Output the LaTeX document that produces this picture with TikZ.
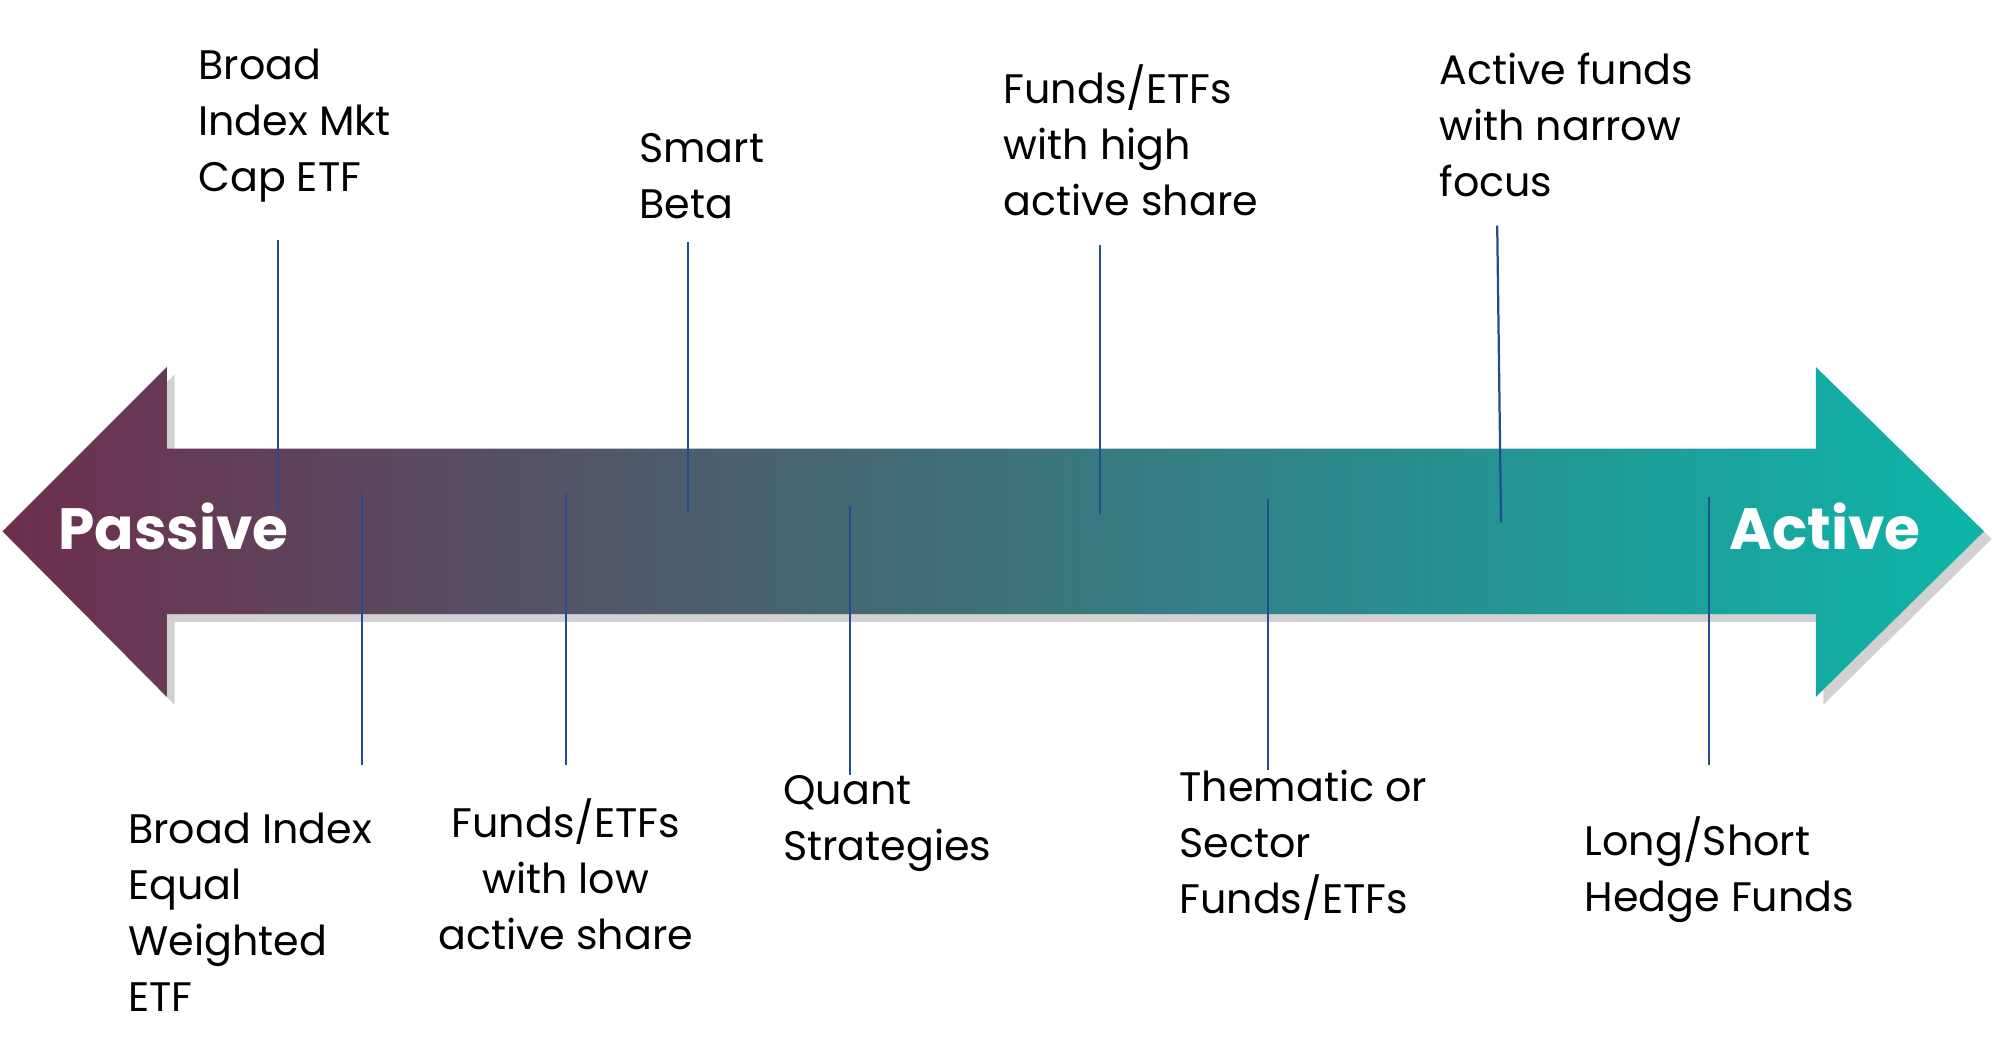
\documentclass[tikz,border=0pt]{standalone}
\usepackage{fontspec}
\setmainfont{Poppins}
\usetikzlibrary{positioning}
\definecolor{passivecol}{HTML}{6E2E4D}
\definecolor{activecol}{HTML}{0DB5A9}
\definecolor{tickcol}{HTML}{244C96}
\tikzset{
  lbl/.style={inner sep=0pt, align=left, font=\fontsize{9.2}{12.5}\selectfont, text=black},
  tick/.style={draw=tickcol, line width=0.5pt},
  endlbl/.style={inner sep=0pt, font=\fontsize{13}{15}\selectfont\bfseries, text=white}
}
\begin{document}
\begin{tikzpicture}[x=0.01cm,y=-0.01cm]
    \useasboundingbox (0,0) rectangle (1568,819);
    % the two-headed arrow
    \fill [black!18] (8,423) -- (137,294) -- (137,358) -- (1431,358) -- (1431,294) -- (1563,423) -- (1431,553) -- (1431,488) -- (137,488) -- (137,553) -- cycle;
    \shade [left color=passivecol, right color=activecol] (2,417) -- (131,288) -- (131,352) -- (1425,352) -- (1425,288) -- (1557,417) -- (1425,547) -- (1425,482) -- (131,482) -- (131,547) -- cycle;
    \node [endlbl, anchor=west] (passive) at (45,413) {Passive};
    \node [endlbl, anchor=east] (active) at (1508,413) {Active};
    % labels above
    \node [lbl, anchor=north west] (mktcap) at (155,38) {Broad\\Index Mkt\\Cap ETF};
    \node [lbl, anchor=north west] (smart) at (501,104) {Smart\\Beta};
    \node [lbl, anchor=north west] (highas) at (787,50) {Funds/ETFs\\with high\\active share};
    \node [lbl, anchor=north west] (narrow) at (1129,41) {Active funds\\with narrow\\focus};
    % labels below
    \node [lbl, anchor=north west] (equal) at (100,637) {Broad Index\\Equal\\Weighted\\ETF};
    \node [lbl, align=center, anchor=north] (lowas) at (444,626) {Funds/ETFs\\with low\\active share};
    \node [lbl, anchor=north west] (quant) at (614,608) {Quant\\Strategies};
    \node [lbl, anchor=north west] (thematic) at (925,604) {Thematic or\\Sector\\Funds/ETFs};
    \node [lbl, anchor=north west] (longshort) at (1243,640) {Long/Short\\Hedge Funds};
    % ticks
    \coordinate (t1a) at (218,188); \coordinate (t1b) at (218,400);
    \coordinate (t2a) at (284,388); \coordinate (t2b) at (284,600);
    \coordinate (t3a) at (444,388); \coordinate (t3b) at (444,600);
    \coordinate (t4a) at (540,190); \coordinate (t4b) at (540,402);
    \coordinate (t5a) at (667,397); \coordinate (t5b) at (667,608);
    \coordinate (t6a) at (863,192); \coordinate (t6b) at (863,403);
    \coordinate (t7a) at (995,392); \coordinate (t7b) at (995,604);
    \coordinate (t8a) at (1175,177); \coordinate (t8b) at (1178,410);
    \coordinate (t9a) at (1341,390); \coordinate (t9b) at (1341,600);
    \foreach \i in {1,...,9}
        \draw [tick] (t\i a) -- (t\i b);
\end{tikzpicture}
\end{document}
